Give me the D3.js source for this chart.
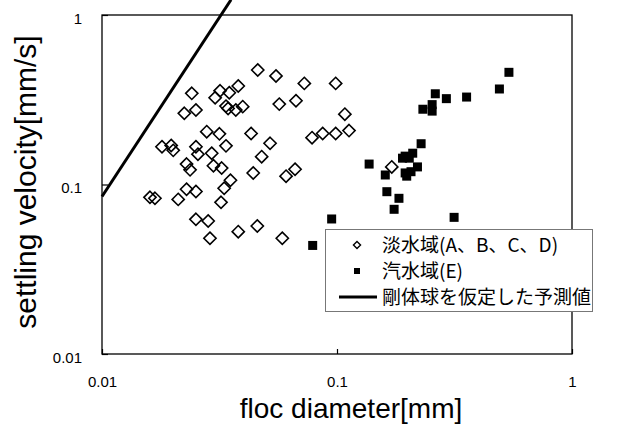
<!DOCTYPE html>
<html>
<head>
<meta charset="utf-8">
<script src="https://cdn.jsdelivr.net/npm/d3@7"></script>
<style>
  body { margin: 0; background: #fff; }
  svg text { font-family: "Liberation Sans", Arial, sans-serif; }
  .jp { font-family: "Noto Sans CJK JP", sans-serif; }
</style>
</head>
<body>
<div id="viz"></div>
<script>
// freshwater (淡水域 A-D): [floc diameter mm, settling velocity mm/s]
const freshDiam = [0.0460, 0.0550, 0.0726, 0.0987, 0.0241, 0.0318, 0.0348, 0.0380, 0.0303, 0.0224,
  0.0251, 0.0337, 0.0344, 0.0371, 0.0397, 0.0568, 0.0669, 0.108, 0.0279, 0.0316,
  0.0431, 0.0783, 0.0869, 0.0987, 0.1125, 0.0180, 0.0197, 0.0201, 0.0251, 0.0256,
  0.0293, 0.0337, 0.0519, 0.0478, 0.0229, 0.0237, 0.0298, 0.0323, 0.0440, 0.0607,
  0.0663, 0.0352, 0.0331, 0.0229, 0.0251, 0.0160, 0.0168, 0.0211, 0.0321, 0.0251,
  0.0283, 0.0288, 0.0380, 0.0458, 0.0585, 0.171];
const freshVel = [0.474, 0.437, 0.395, 0.395, 0.345, 0.357, 0.348, 0.381, 0.325, 0.263,
  0.275, 0.290, 0.281, 0.275, 0.288, 0.298, 0.312, 0.260, 0.205, 0.199,
  0.200, 0.189, 0.200, 0.200, 0.208, 0.167, 0.170, 0.159, 0.167, 0.151,
  0.153, 0.169, 0.175, 0.146, 0.132, 0.122, 0.129, 0.125, 0.117, 0.112,
  0.123, 0.106, 0.0950, 0.0937, 0.0909, 0.0840, 0.0829, 0.0817, 0.0785, 0.0623,
  0.0609, 0.0482, 0.0527, 0.0569, 0.0482, 0.127];

// brackish (汽水域 E)
const brackDiam = [0.539, 0.491, 0.262, 0.292, 0.356, 0.232, 0.254, 0.254, 0.228, 0.210,
  0.195, 0.190, 0.220, 0.2065, 0.195, 0.198, 0.1605, 0.137, 0.163, 0.1835,
  0.175, 0.0949, 0.315, 0.0788, 0.203];
const brackVel = [0.459, 0.366, 0.343, 0.321, 0.328, 0.278, 0.296, 0.271, 0.174, 0.153,
  0.147, 0.143, 0.127, 0.119, 0.117, 0.112, 0.1138, 0.132, 0.0907, 0.0829,
  0.0714, 0.0626, 0.0640, 0.0437, 0.143];

// rigid sphere prediction
const sphereDiam = [0.01, 0.0354];
const sphereVel = [0.085, 1.23];

const tickValues = [0.01, 0.1, 1];
const tickLabels = ["0.01", "0.1", "1"];
const legendLabels = ["淡水域(A、B、C、D)", "汽水域(E)", "剛体球を仮定した予測値"];

const W = 642, H = 426;
const svg = d3.select("#viz").append("svg")
  .attr("width", W)
  .attr("height", H);

const x = d3.scaleLog().domain([0.01, 1]).range([102, 572]);
const y = d3.scaleLog().domain([0.01, 1]).range([354, 15]);

// frame
svg.append("rect")
  .attr("x", x(0.01)).attr("y", y(1))
  .attr("width", x(1) - x(0.01))
  .attr("height", y(0.01) - y(1))
  .attr("fill", "none")
  .attr("stroke", "#000")
  .attr("stroke-width", 1.3);

const fmt = d => tickLabels[tickValues.indexOf(d)];

const xAxis = svg.append("g")
  .attr("transform", `translate(0,${y(0.01)})`)
  .call(d3.axisBottom(x).tickValues(tickValues).tickFormat(fmt)
    .tickSizeInner(-5).tickSizeOuter(0).tickPadding(22));
xAxis.select(".domain").remove();
xAxis.selectAll("line").attr("stroke", "#000").attr("stroke-width", 1.2);
xAxis.selectAll("text").style("font-size", "15px").attr("fill", "#000");

const yAxis = svg.append("g")
  .attr("transform", `translate(${x(0.01)},0)`)
  .call(d3.axisLeft(y).tickValues(tickValues).tickFormat(fmt)
    .tickSizeInner(-6).tickSizeOuter(0).tickPadding(20));
yAxis.select(".domain").remove();
yAxis.selectAll("line").attr("stroke", "#000").attr("stroke-width", 1.2);
yAxis.selectAll("text").style("font-size", "15px").attr("fill", "#000").attr("dy", "0.55em");

// axis titles
svg.append("text")
  .attr("x", 351).attr("y", 418)
  .attr("text-anchor", "middle")
  .style("font-size", "28px")
  .text("floc diameter[mm]");

svg.append("text")
  .attr("transform", "translate(36,182) rotate(-90)")
  .attr("text-anchor", "middle")
  .style("font-size", "30px")
  .text("settling velocity[mm/s]");

// rigid sphere line
svg.append("line")
  .attr("x1", x(sphereDiam[0])).attr("y1", y(sphereVel[0]))
  .attr("x2", x(sphereDiam[1])).attr("y2", y(sphereVel[1]))
  .attr("stroke", "#000")
  .attr("stroke-width", 3);

const diamond = d3.symbol().type(d3.symbolDiamond2).size(95);
const fresh = freshDiam.map((d, i) => [d, freshVel[i]]);
const brack = brackDiam.map((d, i) => [d, brackVel[i]]);

svg.append("g").selectAll("path")
  .data(fresh)
  .join("path")
    .attr("d", diamond)
    .attr("transform", d => `translate(${x(d[0])},${y(d[1])})`)
    .attr("fill", "none")
    .attr("stroke", "#000")
    .attr("stroke-width", 1.6);

svg.append("g").selectAll("rect")
  .data(brack)
  .join("rect")
    .attr("x", d => x(d[0]) - 4.5)
    .attr("y", d => y(d[1]) - 4.5)
    .attr("width", 9)
    .attr("height", 9)
    .attr("fill", "#000");

// legend
const legend = svg.append("g");
legend.append("rect")
  .attr("x", 325.5).attr("y", 229.5)
  .attr("width", 267).attr("height", 82)
  .attr("fill", "#fff")
  .attr("stroke", "#777")
  .attr("stroke-width", 1);

const rowY = [245, 271, 297];
legend.append("path")
  .attr("d", d3.symbol().type(d3.symbolDiamond2).size(32))
  .attr("transform", `translate(357,${rowY[0]})`)
  .attr("fill", "none").attr("stroke", "#000").attr("stroke-width", 1.4);
legend.append("rect")
  .attr("x", 354).attr("y", rowY[1] - 3)
  .attr("width", 6).attr("height", 6)
  .attr("fill", "#000");
legend.append("line")
  .attr("x1", 339).attr("x2", 377)
  .attr("y1", rowY[2]).attr("y2", rowY[2])
  .attr("stroke", "#000").attr("stroke-width", 3);

legend.selectAll("text.lab")
  .data(legendLabels)
  .join("text")
    .attr("class", "lab jp")
    .attr("x", 382)
    .attr("y", (d, i) => rowY[i] + 6.5)
    .style("font-size", "19px")
    .text(d => d);
</script>
</body>
</html>
